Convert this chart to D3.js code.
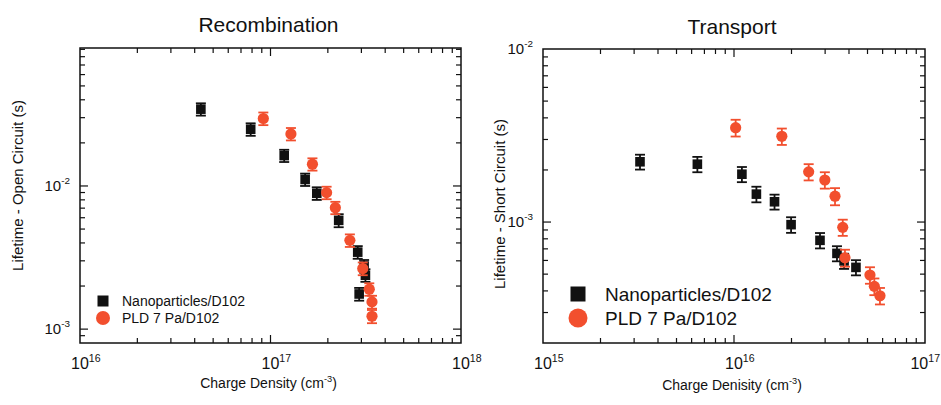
<!DOCTYPE html>
<html lang="en">
<head>
    <meta charset="UTF-8">
    <title>Recombination / Transport</title>
    <script src="https://cdn.jsdelivr.net/npm/d3@7"></script>
    <style>
        body { margin: 0; background: #fff; }
        svg { font-family: "Liberation Sans", Arial, sans-serif; }
    </style>
</head>
<body>
<script>
    // left panel: recombination (open circuit)
    const recNanoX = [4.31e16, 7.87e16, 1.18e17, 1.52e17, 1.75e17, 2.28e17, 2.87e17, 3.10e17, 3.15e17, 2.92e17];
    const recNanoY = [0.0344, 0.0249, 0.0163, 0.0111, 0.00889, 0.00575, 0.00345, 0.00276, 0.00238, 0.00176];
    const recNanoErr = [0.0034, 0.0025, 0.0016, 0.0011, 0.0009, 0.0006, 0.00035, 0.00028, 0.00024, 0.00018];
    const recPldX = [9.17e16, 1.28e17, 1.66e17, 1.97e17, 2.19e17, 2.61e17, 3.05e17, 3.30e17, 3.41e17, 3.41e17];
    const recPldY = [0.0296, 0.0231, 0.0142, 0.00898, 0.00705, 0.00417, 0.00265, 0.00190, 0.00155, 0.00123];
    const recPldErr = [0.003, 0.0023, 0.0014, 0.0009, 0.0007, 0.00042, 0.00027, 0.00019, 0.00016, 0.00013];

    // right panel: transport (short circuit)
    const trNanoX = [3.22e15, 6.43e15, 1.10e16, 1.31e16, 1.63e16, 1.99e16, 2.82e16, 3.46e16, 3.77e16, 4.35e16];
    const trNanoY = [0.00223, 0.00216, 0.00189, 0.00145, 0.00131, 0.000966, 0.000784, 0.000659, 0.000596, 0.000547];
    const trNanoErr = [0.00022, 0.00022, 0.00019, 0.00015, 0.00013, 0.0001, 0.00008, 0.000066, 0.00006, 0.000055];
    const trPldX = [1.02e16, 1.78e16, 2.46e16, 2.99e16, 3.38e16, 3.71e16, 3.81e16, 5.15e16, 5.43e16, 5.81e16];
    const trPldY = [0.00351, 0.00313, 0.00195, 0.00175, 0.00141, 0.000932, 0.000622, 0.000494, 0.000425, 0.000375];
    const trPldErr = [0.00039, 0.00034, 0.00021, 0.00019, 0.00016, 0.0001, 0.00007, 0.000054, 0.000047, 0.000041];

    const seriesNames = ["Nanoparticles/D102", "PLD 7 Pa/D102"];
    const black = "#111111", red = "#f24f2e";
    const W = 941, H = 405;

    const svg = d3.select("body").append("svg")
        .attr("width", W)
        .attr("height", H);

    function sup(sel, base, exp, x, y, size, anchor) {
        const t = sel.append("text")
            .attr("x", x).attr("y", y)
            .attr("font-size", size)
            .attr("text-anchor", anchor)
            .attr("fill", "#111");
        t.append("tspan").text(base);
        t.append("tspan").attr("font-size", size * 0.66).attr("dy", -size * 0.45).text(exp);
        return t;
    }

    function panel(opt) {
        const x = d3.scaleLog().domain(opt.xDomain).range([opt.left, opt.right]);
        const y = d3.scaleLog().domain(opt.yDomain).range([opt.bottom, opt.top]);
        const g = svg.append("g");

        // ticks on all 4 sides, pointing in
        const isMajor = v => Math.abs(Math.log10(v) - Math.round(Math.log10(v))) < 1e-6;
        const ticks = g.append("g").attr("stroke", "#111").attr("stroke-width", 1.2);
        x.ticks().filter(v => v > opt.xDomain[0] && v < opt.xDomain[1]).forEach(v => {
            const len = isMajor(v) ? 8 : 5;
            const px = x(v);
            ticks.append("line").attr("x1", px).attr("x2", px).attr("y1", opt.bottom).attr("y2", opt.bottom - len);
            ticks.append("line").attr("x1", px).attr("x2", px).attr("y1", opt.top).attr("y2", opt.top + len);
        });
        y.ticks().filter(v => v > opt.yDomain[0] && v < opt.yDomain[1]).forEach(v => {
            const len = isMajor(v) ? 8 : 5;
            const py = y(v);
            ticks.append("line").attr("y1", py).attr("y2", py).attr("x1", opt.left).attr("x2", opt.left + len);
            ticks.append("line").attr("y1", py).attr("y2", py).attr("x1", opt.right).attr("x2", opt.right - len);
        });

        g.append("rect")
            .attr("x", opt.left).attr("y", opt.top)
            .attr("width", opt.right - opt.left).attr("height", opt.bottom - opt.top)
            .attr("fill", "none").attr("stroke", "#111").attr("stroke-width", 1.5);

        // tick labels: "10" centred on the tick, exponent after it
        opt.xLabels.forEach(e => {
            const px = x(Math.pow(10, e));
            if (px + 22 > W) sup(g, "10", e, W - 1, 369, 16, "end");
            else sup(g, "10", e, px - 9, 369, 16, "start");
        });
        opt.yLabels.forEach(e => sup(g, "10", e, opt.left - 10, y(Math.pow(10, e)) + 5, 15, "end"));

        // titles
        g.append("text").attr("x", (opt.left + opt.right) / 2 - 2).attr("y", opt.titleY)
            .attr("text-anchor", "middle").attr("font-size", 21).attr("fill", "#111").text(opt.title);
        const xt = sup(g, opt.xTitle, "-3", (opt.left + opt.right) / 2 - 2, opt.xTitleY, 14, "middle");
        xt.append("tspan").attr("dy", 14 * 0.45).attr("font-size", 14).text(")");
        g.append("text")
            .attr("transform", `translate(${opt.yTitleX},${(opt.top + opt.bottom) / 2 + opt.yTitleDy}) rotate(-90)`)
            .attr("text-anchor", "middle").attr("font-size", 15).attr("fill", "#111").text(opt.yTitle);

        // data
        const draw = (xs, ys, es, color, shape) => {
            const d = xs.map((v, i) => ({x: v, y: ys[i], e: es[i]}));
            const eb = g.append("g").attr("stroke", color).attr("stroke-width", 1.8);
            d.forEach(p => {
                const cx = x(p.x), y0 = y(p.y - p.e), y1 = y(p.y + p.e);
                eb.append("line").attr("x1", cx).attr("x2", cx).attr("y1", y0).attr("y2", y1);
                eb.append("line").attr("x1", cx - 5).attr("x2", cx + 5).attr("y1", y0).attr("y2", y0);
                eb.append("line").attr("x1", cx - 5).attr("x2", cx + 5).attr("y1", y1).attr("y2", y1);
            });
            if (shape === "square") {
                g.append("g").selectAll("rect").data(d).join("rect")
                    .attr("x", p => x(p.x) - 4.8).attr("y", p => y(p.y) - 4.8)
                    .attr("width", 9.6).attr("height", 9.6).attr("fill", color);
            } else {
                g.append("g").selectAll("circle").data(d).join("circle")
                    .attr("cx", p => x(p.x)).attr("cy", p => y(p.y)).attr("r", 5.6).attr("fill", color);
            }
        };
        draw(opt.nano[0], opt.nano[1], opt.nano[2], black, "square");
        draw(opt.pld[0], opt.pld[1], opt.pld[2], red, "circle");

        // legend
        const L = opt.legend;
        g.append("rect").attr("x", L.x - L.sq / 2).attr("y", L.y1 - L.sq / 2)
            .attr("width", L.sq).attr("height", L.sq).attr("fill", black);
        g.append("circle").attr("cx", L.x).attr("cy", L.y2).attr("r", L.r).attr("fill", red);
        [L.y1, L.y2].forEach((yy, i) => g.append("text")
            .attr("x", L.tx).attr("y", yy + L.fs * 0.36)
            .attr("font-size", L.fs).attr("fill", "#111").text(seriesNames[i]));
    }

    panel({
        left: 80, right: 461, top: 48, bottom: 343,
        xDomain: [1e16, 1e18], yDomain: [8e-4, 0.092],
        xLabels: [16, 17, 18], yLabels: [-2, -3],
        title: "Recombination", titleY: 32,
        xTitle: "Charge Density (cm", xTitleY: 388,
        yTitle: "Lifetime - Open Circuit (s)", yTitleX: 23, yTitleDy: -10,
        nano: [recNanoX, recNanoY, recNanoErr],
        pld: [recPldX, recPldY, recPldErr],
        legend: {x: 103, y1: 301, y2: 318, sq: 11, r: 7, tx: 122, fs: 14}
    });

    panel({
        left: 543, right: 925, top: 49, bottom: 343,
        xDomain: [1e15, 1e17], yDomain: [2e-4, 1e-2],
        xLabels: [15, 16, 17], yLabels: [-2, -3],
        title: "Transport", titleY: 34,
        xTitle: "Charge Denisity (cm", xTitleY: 390,
        yTitle: "Lifetime - Short Circuit (s)", yTitleX: 505, yTitleDy: 8,
        nano: [trNanoX, trNanoY, trNanoErr],
        pld: [trPldX, trPldY, trPldErr],
        legend: {x: 578, y1: 294, y2: 318, sq: 15, r: 9.5, tx: 605, fs: 19}
    });
</script>
</body>
</html>
